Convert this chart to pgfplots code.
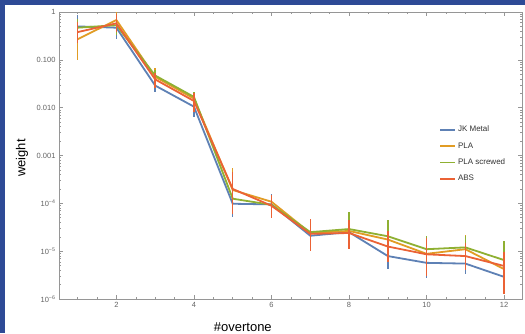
\documentclass[border=0pt]{standalone}
\usepackage{pgfplots}
\pgfplotsset{compat=1.18}
\usepackage{pgfplotstable}
\usepackage{fontspec}
\setmainfont{Liberation Sans}
\definecolor{mblue}{RGB}{94,129,181}
\definecolor{morange}{RGB}{225,156,36}
\definecolor{mgreen}{RGB}{143,176,50}
\definecolor{mred}{RGB}{235,98,53}
\definecolor{bgblue}{RGB}{46,74,150}
\definecolor{axgray}{RGB}{150,150,150}
\definecolor{tkgray}{RGB}{100,100,100}

\pgfplotstableread{
x y ep em
1 0.50 0.38 0.28
2 0.47 0.25 0.20
3 0.029 0.008 0.008
4 0.0105 0.0035 0.004
5 9.8e-5 4.2e-5 4.6e-5
6 9.5e-5 6.5e-5 3.5e-5
7 2.1e-5 1.2e-5 1.1e-5
8 2.5e-5 4.2e-5 1.4e-5
9 7.9e-6 4.1e-6 3.7e-6
10 5.7e-6 2.8e-6 2.9e-6
11 5.5e-6 2.2e-6 2.1e-6
12 2.9e-6 1.1e-6 1.2e-6
}\tblue
\pgfplotstableread{
x y ep em
1 0.27 0.18 0.17
2 0.68 0.32 0.28
3 0.044 0.024 0.014
4 0.0155 0.0055 0.0055
5 1.9e-4 3.6e-4 1.0e-4
6 1.08e-4 4.2e-5 4.8e-5
7 2.4e-5 2.1e-5 1.3e-5
8 2.65e-5 1.55e-5 1.35e-5
9 1.75e-5 1.25e-5 9.5e-6
10 8.8e-6 6.2e-6 5.6e-6
11 1.1e-5 1.1e-5 6e-6
12 4.2e-6 4.8e-6 2.8e-6
}\torange
\pgfplotstableread{
x y ep em
1 0.47 0.23 0.17
2 0.53 0.27 0.20
3 0.047 0.013 0.014
4 0.0168 0.0047 0.0058
5 1.25e-4 7.5e-5 5.5e-5
6 9.3e-5 3.7e-5 4.3e-5
7 2.5e-5 1.5e-5 1.3e-5
8 2.9e-5 3.6e-5 1.4e-5
9 2.05e-5 2.35e-5 9.5e-6
10 1.1e-5 1.0e-5 6e-6
11 1.2e-5 9e-6 6e-6
12 6.5e-6 9.5e-6 3.5e-6
}\tgreen
\pgfplotstableread{
x y ep em
1 0.38 0.24 0.16
2 0.58 0.32 0.20
3 0.039 0.013 0.013
4 0.0138 0.0062 0.0058
5 2.0e-4 2.5e-4 1.4e-4
6 8.9e-5 6.1e-5 3.9e-5
7 2.3e-5 2.5e-5 1.3e-5
8 2.4e-5 2.1e-5 1.3e-5
9 1.25e-5 1.35e-5 6.5e-6
10 8.6e-6 1.04e-5 5.6e-6
11 7.9e-6 7.1e-6 3.9e-6
12 4.9e-6 4.6e-6 3.6e-6
}\tred

\begin{document}
\begin{tikzpicture}[x=1pt,y=1pt]
\fill[bgblue] (0,0) rectangle (525,333);
\fill[white] (5,0) rectangle (525,327.5);
\begin{axis}[
  at={(59pt,34pt)}, anchor=south west,
  scale only axis, width=463pt, height=287pt,
  ymode=log,
  xmin=0.52, xmax=12.46,
  ymin=1e-6, ymax=1,
  axis line style={axgray, line width=0.6pt},
  tick style={axgray, line width=0.5pt},
  major tick length=4pt, minor tick length=2pt,
  xtick={2,4,6,8,10,12},
  minor xtick={1,1.5,2.5,3,3.5,4.5,5,5.5,6.5,7,7.5,8.5,9,9.5,10.5,11,11.5,12.5},
  ytick={1e-6,1e-5,1e-4,1e-3,1e-2,1e-1,1},
  yticklabels={10\textsuperscript{−6},10\textsuperscript{−5},10\textsuperscript{−4},0.001,0.010,0.100,1},
  xticklabel style={font=\fontsize{7.5}{9}\selectfont, text=tkgray},
  yticklabel style={font=\fontsize{7.5}{9}\selectfont, text=tkgray},
  /pgf/number format/assume math mode=true,
  xticklabel={\pgfmathprintnumber[assume math mode=true]{\tick}},
  xlabel={\#overtone},
  ylabel={weight},
  label style={font=\fontsize{13}{15}\selectfont, text=black},
  xlabel style={at={(axis description cs:0.397,-0.098)}, anchor=center},
  ylabel style={at={(axis description cs:-0.08,0.491)}, anchor=center, rotate=0},
  legend style={draw=none, fill=none, at={(axis description cs:0.815,0.617)}, anchor=north west,
    font=\fontsize{8}{9}\selectfont, text=black!80, row sep=5.2pt},
  legend cell align=left,
  legend image code/.code={\draw[#1, line width=1.5pt] (0pt,0pt) -- (15pt,0pt);},
  every axis plot/.append style={line width=1.8pt},
]
\addplot[mblue, no marks, error bars/.cd, y dir=both, y explicit, error mark=none, error bar style={line width=1.4pt, mblue}] table[x=x, y=y, y error plus=ep, y error minus=em] {\tblue};
\addlegendentry{JK Metal}
\addplot[morange, no marks, error bars/.cd, y dir=both, y explicit, error mark=none, error bar style={line width=1.4pt, morange}] table[x=x, y=y, y error plus=ep, y error minus=em] {\torange};
\addlegendentry{PLA}
\addplot[mgreen, no marks, error bars/.cd, y dir=both, y explicit, error mark=none, error bar style={line width=1.4pt, mgreen}] table[x=x, y=y, y error plus=ep, y error minus=em] {\tgreen};
\addlegendentry{PLA screwed}
\addplot[mred, no marks, error bars/.cd, y dir=both, y explicit, error mark=none, error bar style={line width=1.4pt, mred}] table[x=x, y=y, y error plus=ep, y error minus=em] {\tred};
\addlegendentry{ABS}
\end{axis}
\pgfresetboundingbox
\path (0,0) rectangle (525,333);
\end{tikzpicture}
\end{document}
